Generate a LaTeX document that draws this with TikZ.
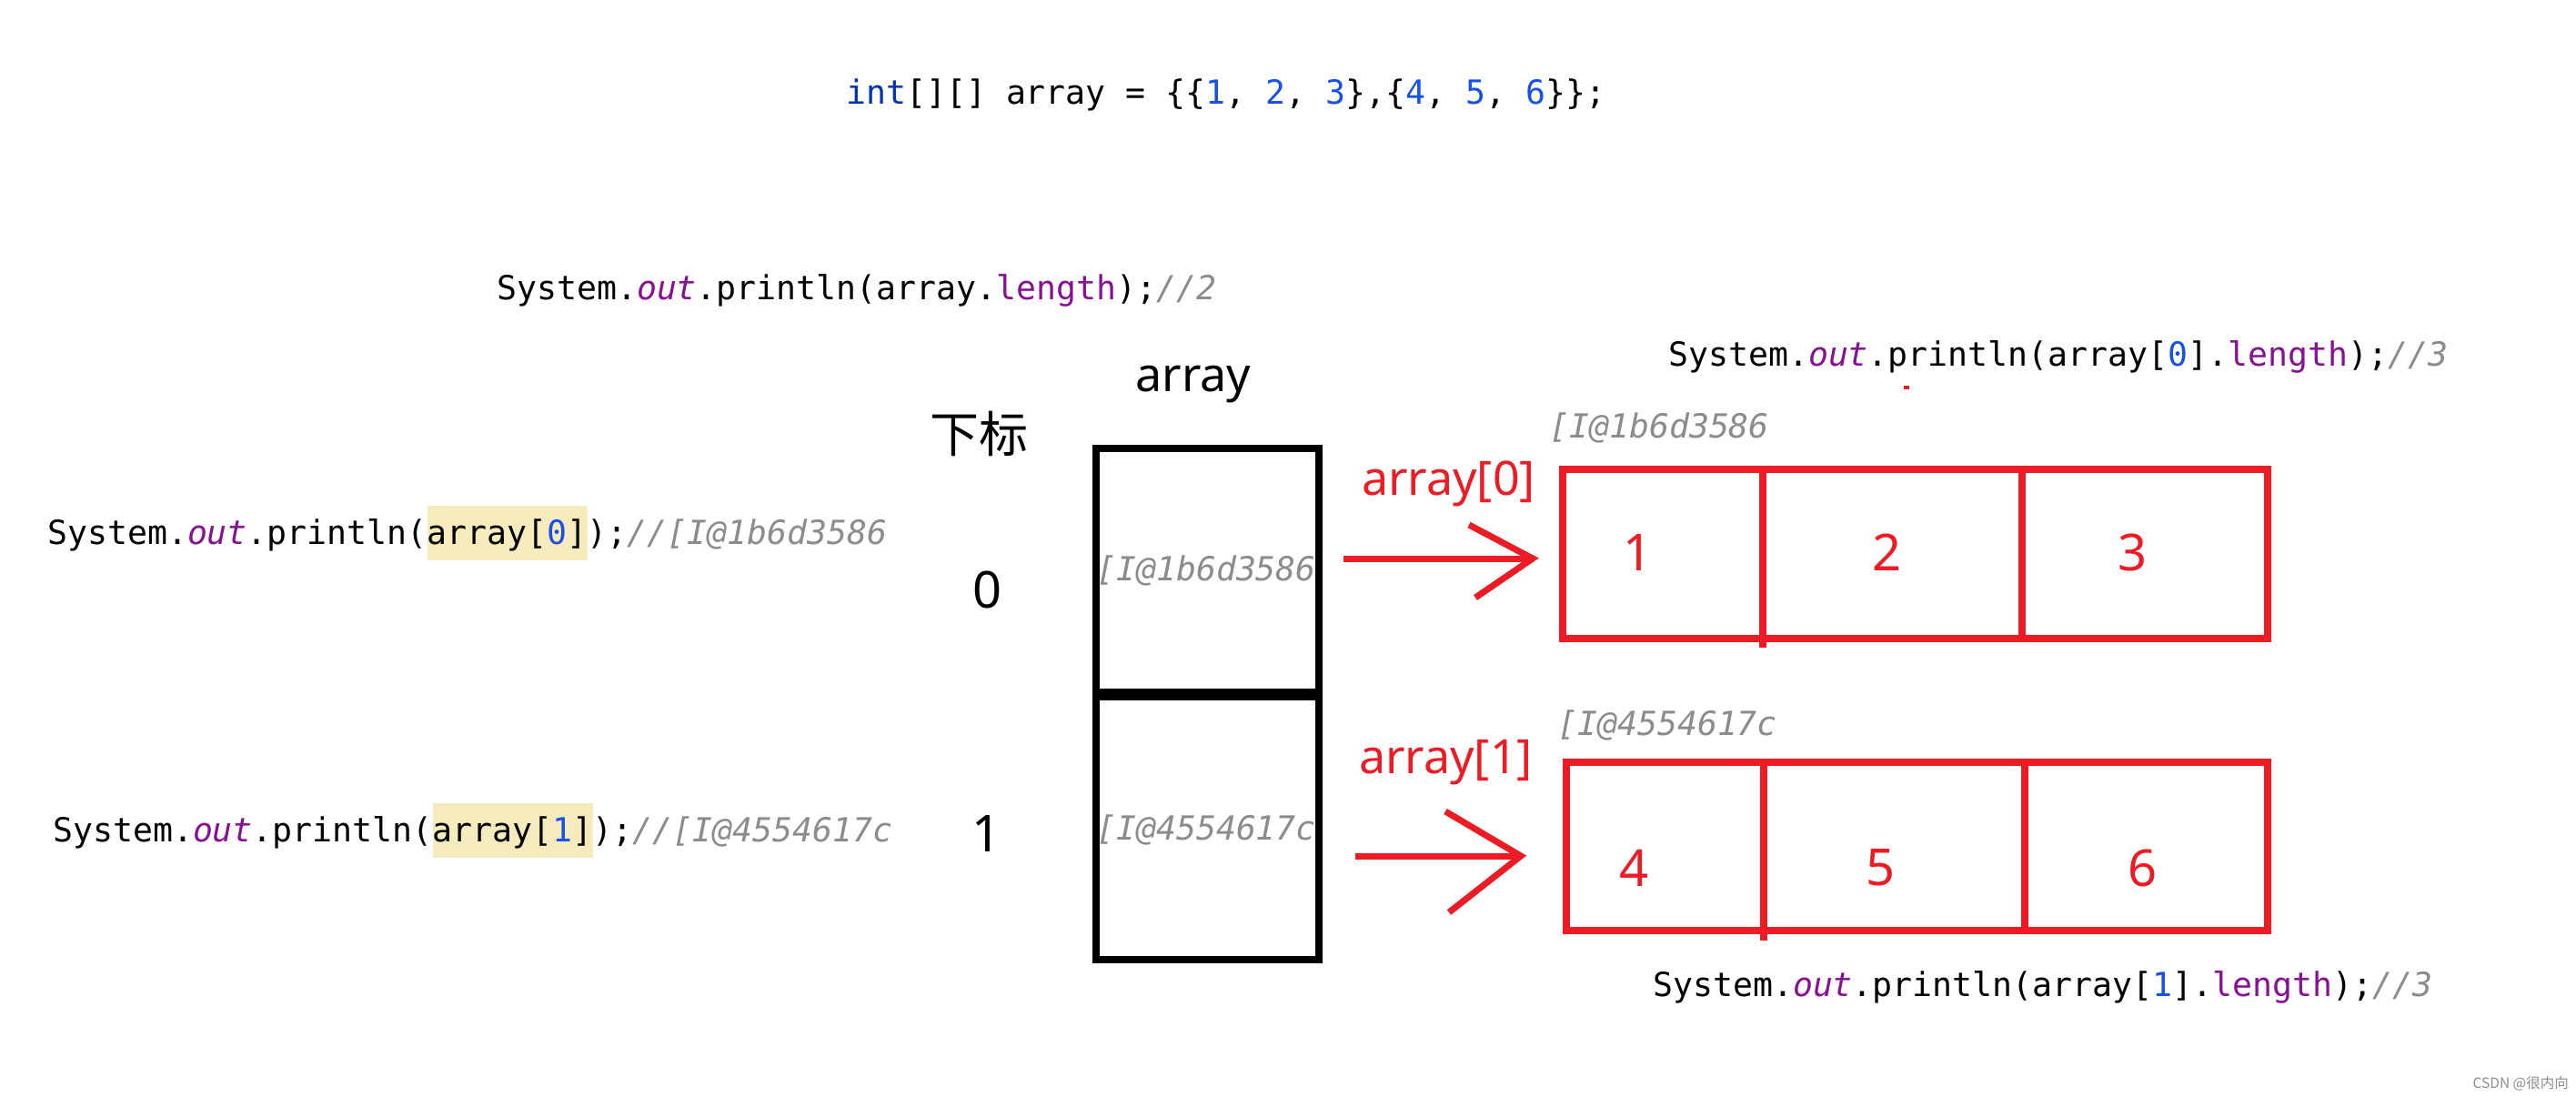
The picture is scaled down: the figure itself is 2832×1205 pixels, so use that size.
\documentclass[tikz,border=0pt]{standalone}
\usepackage{fontspec}
\usetikzlibrary{calc}
\setmainfont{Noto Sans}
\setmonofont{DejaVu Sans Mono}
\newfontfamily\cjk{Noto Sans CJK SC}
\definecolor{jkwc}{HTML}{0033B3}
\definecolor{jnumc}{HTML}{1750EB}
\definecolor{jfldc}{HTML}{871094}
\definecolor{jcmtc}{HTML}{8C8C8C}
\definecolor{jhlc}{HTML}{F6EBBC}
\definecolor{pred}{HTML}{ED1C24}
\newcommand\jkw[1]{\textcolor{jkwc}{#1}}
\newcommand\jnum[1]{\textcolor{jnumc}{#1}}
\newcommand\jfld[1]{\textcolor{jfldc}{#1}}
\newcommand\jsfld[1]{\textcolor{jfldc}{\itshape #1}}
\newcommand\jcmt[1]{\textcolor{jcmtc}{\itshape #1}}
\newcommand\jhl[1]{{\setlength{\fboxsep}{0pt}\colorbox{jhlc}{\rule[-0.49em]{0pt}{1.64em}#1}}}
\newcommand\jcodefont{\ttfamily\fontsize{36.5}{44}\selectfont}
\tikzset{
  code/.style={inner sep=0pt, anchor=base west, font=\jcodefont},
  graycode/.style={code, text=jcmtc, font=\jcodefont\itshape},
  blackcell/.style={draw=black, line width=8pt, inner sep=0pt},
  redbox/.style={draw=pred, line width=8pt, inner sep=0pt},
  redline/.style={draw=pred, line width=8pt},
  redarrow/.style={draw=pred, line width=7pt},
  reddigit/.style={inner sep=0pt, text=pred, font=\fontsize{56}{60}\selectfont},
  idxdigit/.style={inner sep=0pt, text=black, font=\fontsize{56}{60}\selectfont},
  redlabel/.style={inner sep=0pt, anchor=base west, text=pred, font=\fontsize{52}{60}\selectfont},
}
\begin{document}
\begin{tikzpicture}[x=1pt, y=-1pt]
\useasboundingbox (0,0) rectangle (2832,1205);
\fill[white] (0,0) rectangle (2832,1205);

% code lines
\node[code] (decl) at (930,114) {\jkw{int}[][] array = \{\{\jnum{1}, \jnum{2}, \jnum{3}\},\{\jnum{4}, \jnum{5}, \jnum{6}\}\};};
\node[code] (len) at (546,329) {System.\jsfld{out}.println(array.\jfld{length});\jcmt{//2}};
\node[code] (len0) at (1834,402) {System.\jsfld{out}.println(array[\jnum{0}].\jfld{length});\jcmt{//3}};
\node[code] (pr0) at (52,598) {System.\jsfld{out}.println(\jhl{array[\jnum{0}]});\jcmt{//[I@1b6d3586}};
\node[code] (pr1) at (58,925) {System.\jsfld{out}.println(\jhl{array[\jnum{1}]});\jcmt{//[I@4554617c}};
\node[code] (len1) at (1817,1095) {System.\jsfld{out}.println(array[\jnum{1}].\jfld{length});\jcmt{//3}};

% stray red mark
\fill[pred] (2093,424) rectangle (2099,428);

% labels
\node[inner sep=0pt, anchor=base, font=\fontsize{52}{60}\selectfont] (arrlbl) at (1312,430) {array};
\node[inner sep=0pt, font=\cjk\fontsize{54}{60}\selectfont] (idxlbl) at (1076,477) {下标};
\node[idxdigit] (i0) at (1086,648) {0};
\node[idxdigit] (i1) at (1085,916) {1};

% black array cells
\node[blackcell, minimum width=245pt, minimum height=268pt] (c0) at (1327.5,627) {};
\node[blackcell, minimum width=245pt, minimum height=294pt] (c1) at (1327.5,908) {};
\draw[line width=10pt] (c0.south west) -- (c0.south east);
\node[graycode] (t0) at (1205,638) {[I@1b6d3586};
\node[graycode] (t1) at (1205,923) {[I@4554617c};

% red row 0
\node[redbox, minimum width=775pt, minimum height=186pt] (r0) at (2105.5,609) {};
\draw[redline] (1938,516) -- (1938,712);
\draw[redline] (2223,516) -- (2223,702);
\node[reddigit] (v1) at (1800,607) {1};
\node[reddigit] (v2) at (2074,607) {2};
\node[reddigit] (v3) at (2344,607) {3};
\node[graycode] (addr0) at (1703,481) {[I@1b6d3586};
\node[redlabel] (l0) at (1497,544) {array[0]};

% red row 1
\node[redbox, minimum width=771pt, minimum height=185pt] (r1) at (2107.5,930.5) {};
\draw[redline] (1939,838) -- (1939,1034);
\draw[redline] (2226,838) -- (2226,1023);
\node[reddigit] (v4) at (1796,954) {4};
\node[reddigit] (v5) at (2067,954) {5};
\node[reddigit] (v6) at (2355,954) {6};
\node[graycode] (addr1) at (1712,808) {[I@4554617c};
\node[redlabel] (l1) at (1494,850) {array[1]};

% arrows
\coordinate (a0s) at (1477,614);
\coordinate (a0e) at (1685,614);
\draw[redarrow] (a0s) -- (a0e);
\draw[redarrow] ($(a0e)+(-70,-37)$) -- (a0e) -- ($(a0e)+(-63,43)$);
\coordinate (a1s) at (1490,941);
\coordinate (a1e) at (1672,941);
\draw[redarrow] (a1s) -- (a1e);
\draw[redarrow] ($(a1e)+(-83,-49)$) -- (a1e) -- ($(a1e)+(-79,62)$);

% watermark
\node[inner sep=0pt, anchor=east, text=black!45, font=\cjk\fontsize{15.5}{18}\selectfont] (wm) at (2824,1191) {CSDN @很内向};
\end{tikzpicture}
\end{document}
